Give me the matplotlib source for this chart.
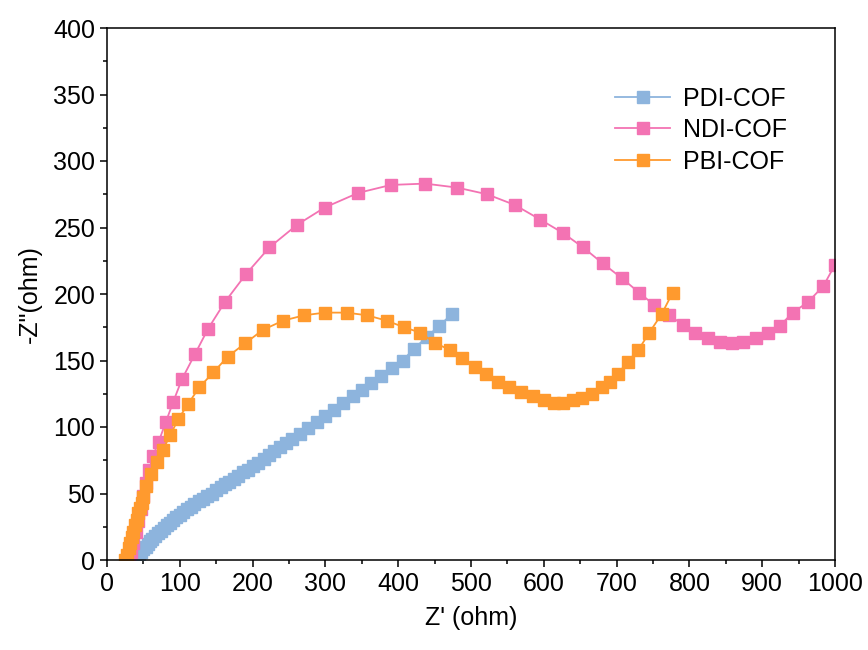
import numpy as np
import matplotlib
matplotlib.use("Agg")
import matplotlib.pyplot as plt
from matplotlib.ticker import MultipleLocator

plt.rcParams["font.family"] = ["Liberation Sans", "DejaVu Sans"]

# Nyquist data (Z' , -Z'')
pdi_x = [40, 42, 44, 47, 50, 53, 56, 59, 62, 66, 70, 74, 78, 82, 86, 90, 95, 100,
         105, 110, 115, 120, 126, 132, 138, 144, 150, 156, 162, 168, 174, 180, 187,
         194, 201, 208, 215, 222, 230, 238, 246, 254, 265, 276, 288, 299, 312, 324,
         338, 350, 363, 377, 392, 406, 422, 440, 456, 474]
pdi_y = [0, 2, 4, 6, 8, 10, 12, 14, 16, 18, 20, 22, 24, 26, 28, 30, 32, 34,
         36, 38, 40, 42, 44, 46, 48, 50, 53, 55, 57, 59, 61, 63, 66,
         68, 71, 73, 76, 79, 82, 85, 88, 91, 95, 99, 104, 108, 113, 118,
         123, 128, 133, 138, 144, 150, 159, 168, 176, 185]

ndi_x = [30, 33, 36, 40, 43, 47, 50, 54, 58, 63, 71, 81, 91, 103, 121, 139, 162,
         191, 223, 261, 299, 345, 390, 437, 481, 522, 560, 595, 626, 654, 681, 707,
         731, 751, 772, 791, 808, 826, 842, 858, 874, 891, 908, 924, 942, 963, 984,
         1000, 1015]
ndi_y = [0, 6, 13, 21, 29, 38, 48, 58, 68, 78, 89, 104, 119, 136, 155, 174, 194,
         215, 235, 252, 265, 276, 282, 283, 280, 275, 267, 256, 246, 235, 223, 212,
         201, 192, 184, 177, 171, 167, 164, 163, 164, 167, 171, 176, 186, 194, 206,
         222, 238]

pbi_x = [25, 27, 30, 32, 34, 36, 39, 41, 43, 45, 48, 50, 54, 61, 69, 77, 87, 98,
         111, 127, 146, 166, 190, 214, 242, 271, 299, 329, 357, 384, 408, 430, 451,
         471, 488, 505, 521, 537, 552, 569, 585, 600, 614, 627, 640, 652, 666, 680,
         691, 702, 715, 730, 745, 762, 777]
pbi_y = [0, 4, 9, 13, 17, 21, 26, 30, 35, 39, 43, 47, 56, 65, 74, 83, 94, 106,
         117, 130, 141, 153, 163, 173, 180, 184, 186, 186, 184, 180, 175, 171, 163,
         158, 152, 145, 140, 134, 130, 126, 123, 120, 118, 118, 120, 122, 125, 130,
         134, 140, 149, 158, 171, 185, 201]

colors = {"PDI-COF": "#8DB4DD", "NDI-COF": "#F373B3", "PBI-COF": "#FF9A2E"}

fig = plt.figure(figsize=(8.68, 6.5), dpi=100)
ax = fig.add_axes([107 / 868, 1 - 560 / 650, 728 / 868, 532 / 650])

for name, xs, ys in [("PDI-COF", pdi_x, pdi_y),
                     ("NDI-COF", ndi_x, ndi_y),
                     ("PBI-COF", pbi_x, pbi_y)]:
    ax.plot(xs, ys, color=colors[name], lw=1.3, marker="s", ms=8.8,
            mec=colors[name], mfc=colors[name], label=name)

ax.set_xlim(0, 1000)
ax.set_ylim(0, 400)
ax.xaxis.set_major_locator(MultipleLocator(100))
ax.xaxis.set_minor_locator(MultipleLocator(50))
ax.yaxis.set_major_locator(MultipleLocator(50))
ax.yaxis.set_minor_locator(MultipleLocator(25))
ax.tick_params(which="major", direction="out", length=5, width=1.1,
               labelsize=18, top=False, right=False)
ax.tick_params(which="minor", direction="out", length=3, width=1.1,
               top=False, right=False)
for s in ax.spines.values():
    s.set_linewidth(1.1)

ax.set_xlabel("Z' (ohm)", fontsize=18, labelpad=7)
ax.set_ylabel('-Z"(ohm)', fontsize=18, labelpad=8)

ax.legend(loc="upper left", bbox_to_anchor=(0.698, 0.89), frameon=False,
          fontsize=18, handlelength=2.2, handletextpad=0.5, labelspacing=0.3,
          borderpad=0, borderaxespad=0)

fig.savefig("out.png", dpi=100)
